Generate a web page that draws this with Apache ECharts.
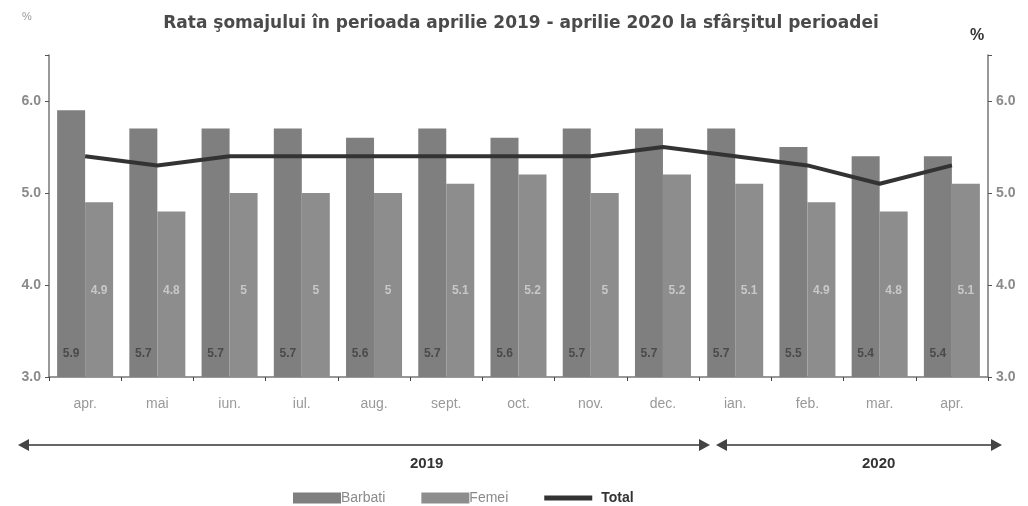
<!DOCTYPE html>
<html>
<head>
<meta charset="utf-8">
<script src="https://cdn.jsdelivr.net/npm/echarts@6/dist/echarts.min.js"></script>
<style>
  html, body { margin: 0; padding: 0; background: #fff; }
  #chart { width: 1028px; height: 506px; }
</style>
</head>
<body>
<div id="chart"></div>
<script>
const months = ['apr.', 'mai', 'iun.', 'iul.', 'aug.', 'sept.', 'oct.', 'nov.', 'dec.', 'ian.', 'feb.', 'mar.', 'apr.'];
const barbati = [5.9, 5.7, 5.7, 5.7, 5.6, 5.7, 5.6, 5.7, 5.7, 5.7, 5.5, 5.4, 5.4];
const femei = [4.9, 4.8, 5, 5, 5, 5.1, 5.2, 5, 5.2, 5.1, 4.9, 4.8, 5.1];
const total = [5.4, 5.3, 5.4, 5.4, 5.4, 5.4, 5.4, 5.4, 5.5, 5.4, 5.3, 5.1, 5.3];

const font = 'Liberation Sans, Arial, sans-serif';
const chart = echarts.init(document.getElementById('chart'));

const yAxisBase = {
  type: 'value',
  min: 3,
  max: 6.5,
  interval: 1,
  splitLine: { show: false },
  axisLine: { show: true, lineStyle: { color: '#777', width: 1.5 } },
  axisTick: { show: true, length: 4, lineStyle: { color: '#555' } },
  axisLabel: {
    color: '#8a8a8a',
    fontFamily: font,
    fontSize: 14,
    fontWeight: 'bold',
    formatter: (v) => (v > 6.1 ? '' : v.toFixed(1))
  }
};

// arrowheads for the year brackets
const tri = (x, y, dir) => ({
  type: 'polygon',
  shape: { points: [[x, y], [x - dir * 11, y - 6], [x - dir * 11, y + 6]] },
  style: { fill: '#444' }
});

const option = {
  animation: false,
  title: {
    text: 'Rata şomajului în perioada aprilie 2019 - aprilie 2020 la sfârşitul perioadei',
    left: 516,
    textAlign: 'center',
    top: 10,
    textStyle: { fontFamily: 'DejaVu Sans', fontSize: 17, fontWeight: 'bold', color: '#4a4a4a' }
  },
  grid: { left: 49, right: 40, top: 55, bottom: 129 },
  legend: {
    left: 288,
    top: 486,
    itemWidth: 48,
    itemHeight: 11,
    itemGap: 36,
    textStyle: { fontFamily: font, fontSize: 14, color: '#8a8a8a', padding: [0, 0, 0, -5] },
    data: [
      { name: 'Barbati', icon: 'rect' },
      { name: 'Femei', icon: 'rect' },
      {
        name: 'Total',
        icon: 'path://M0,0 L48,0 L48,5 L0,5 Z',
        textStyle: { color: '#333', fontWeight: 'bold', padding: [0, 0, 0, 4] }
      }
    ]
  },
  xAxis: {
    type: 'category',
    data: months,
    axisLine: { lineStyle: { color: '#777', width: 1.5 } },
    axisTick: { show: true, length: 4, lineStyle: { color: '#444' } },
    axisLabel: { color: '#999', fontFamily: font, fontSize: 14, margin: 20 }
  },
  yAxis: [
    Object.assign({}, yAxisBase),
    Object.assign({}, yAxisBase, { position: 'right' })
  ],
  graphic: [
    { type: 'text', left: 22, top: 11, style: { text: '%', fill: '#999', font: '11px ' + font } },
    { type: 'text', left: 970, top: 28, style: { text: '%', fill: '#333', font: 'bold 16px ' + font } },
    { type: 'line', shape: { x1: 24, y1: 445, x2: 704, y2: 445 }, style: { stroke: '#666', lineWidth: 2 } },
    tri(18, 445, -1),
    tri(710, 445, 1),
    { type: 'line', shape: { x1: 722, y1: 445, x2: 996, y2: 445 }, style: { stroke: '#666', lineWidth: 2 } },
    tri(716, 445, -1),
    tri(1002, 445, 1),
    { type: 'text', left: 410, top: 456, style: { text: '2019', fill: '#333', font: 'bold 15px ' + font } },
    { type: 'text', left: 862, top: 456, style: { text: '2020', fill: '#333', font: 'bold 15px ' + font } }
  ],
  series: [
    {
      name: 'Barbati',
      type: 'bar',
      data: barbati,
      barWidth: 28,
      barGap: '0%',
      itemStyle: { color: '#7f7f7f' },
      label: {
        show: true,
        position: 'insideBottom',
        distance: 17,
        color: '#4a4a4a',
        fontFamily: font,
        fontSize: 12,
        fontWeight: 'bold'
      }
    },
    {
      name: 'Femei',
      type: 'bar',
      data: femei,
      barWidth: 28,
      itemStyle: { color: '#8d8d8d' },
      label: {
        show: true,
        position: 'insideBottom',
        distance: 80,
        color: '#c8c8c8',
        fontFamily: font,
        fontSize: 12,
        fontWeight: 'bold'
      }
    },
    {
      name: 'Total',
      type: 'line',
      data: total,
      symbol: 'none',
      lineStyle: { color: '#333', width: 4 },
      itemStyle: { color: '#333' }
    }
  ]
};

chart.setOption(option);
</script>
</body>
</html>
